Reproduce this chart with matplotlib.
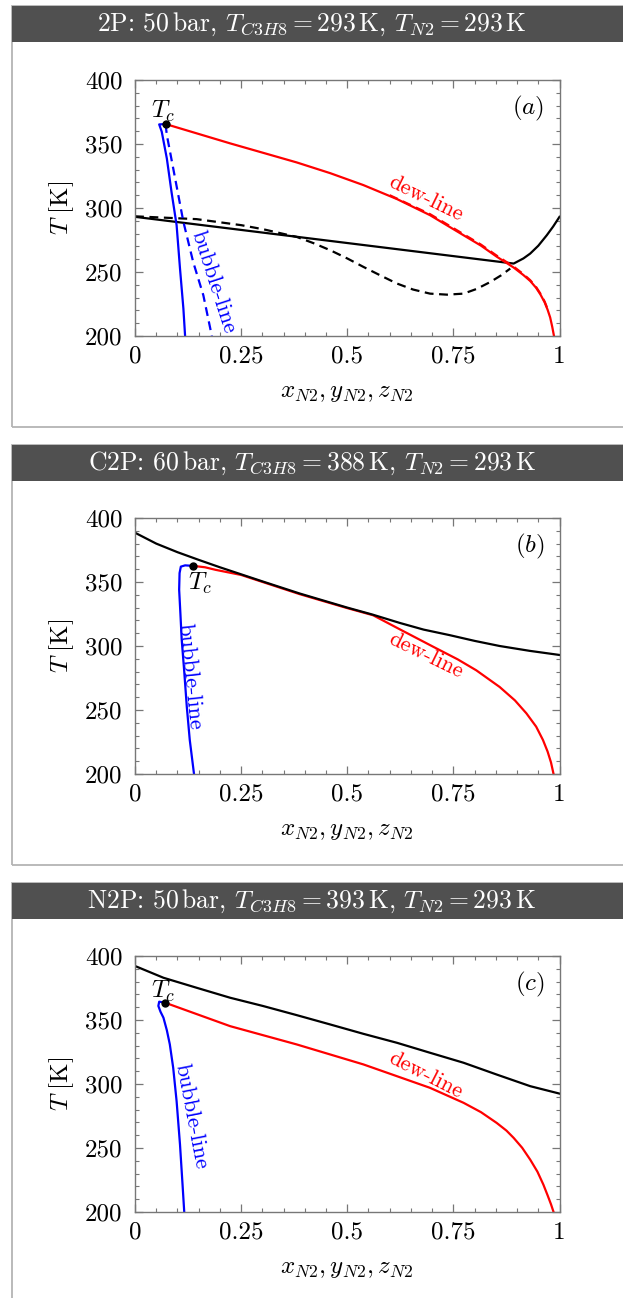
import matplotlib
matplotlib.use('Agg')
import matplotlib.pyplot as plt
from matplotlib.patches import Rectangle
from matplotlib.ticker import MultipleLocator

plt.rcParams['font.family'] = 'cmr10'
plt.rcParams['mathtext.fontset'] = 'cm'
plt.rcParams['axes.formatter.use_mathtext'] = True

# titles of the three cases
titles = [
    r'2P: 50$\,$bar, $T_{C3H8}=293\,\mathrm{K}$, $T_{N2}=293\,\mathrm{K}$',
    r'C2P: 60$\,$bar, $T_{C3H8}=388\,\mathrm{K}$, $T_{N2}=293\,\mathrm{K}$',
    r'N2P: 50$\,$bar, $T_{C3H8}=393\,\mathrm{K}$, $T_{N2}=293\,\mathrm{K}$',
]
panel_tags = ['$(a)$', '$(b)$', '$(c)$']
xticks = [0, 0.25, 0.5, 0.75, 1]
xtick_labels = ['0', '0.25', '0.5', '0.75', '1']
yticks = [200, 250, 300, 350, 400]

# panel (a)
a_bub_x = [0.072, 0.057, 0.063, 0.075, 0.086, 0.098, 0.106, 0.114, 0.118]
a_bub_T = [365.6, 365.3, 359.6, 338.7, 312.6, 286.6, 252.7, 221.4, 200]
a_bubd_x = [0.072, 0.075, 0.09, 0.114, 0.137, 0.161, 0.181]
a_bubd_T = [365.6, 357, 331, 289.2, 257.9, 231.8, 200]
a_dew_x = [0.072, 0.224, 0.381, 0.46, 0.538, 0.617, 0.695, 0.774, 0.815, 0.852, 0.892, 0.915, 0.931, 0.945, 0.955, 0.965, 0.972, 0.978, 0.983, 0.987]
a_dew_T = [365.6, 350.5, 335.6, 327.2, 317.9, 307, 294.4, 278.7, 270.6, 262, 253.5, 247.6, 243, 237.6, 232.5, 226.3, 220.5, 214.5, 207, 200]
a_dewd_x = [0.6, 0.695, 0.774, 0.815, 0.852, 0.892, 0.915, 0.931, 0.945, 0.955, 0.965, 0.972]
a_dewd_T = [310, 295.2, 279.5, 271.4, 262.8, 254.2, 248.3, 243.6, 238.2, 233.1, 226.9, 221]
a_mix_x = [0, 0.892, 0.915, 0.931, 0.95, 0.97, 0.985, 1.0]
a_mix_T = [293.1, 256.6, 260.6, 264.4, 270.5, 278.7, 285.5, 293.1]
a_mixd_x = [0, 0.145, 0.25, 0.302, 0.381, 0.42, 0.46, 0.5, 0.538, 0.58, 0.617, 0.655, 0.695, 0.735, 0.774, 0.805, 0.837, 0.862, 0.884]
a_mixd_T = [293.5, 291.3, 286.6, 283.4, 277.4, 272.6, 267, 260.6, 254, 247, 241, 236.3, 233.1, 232.3, 233.1, 236.8, 242.2, 247.3, 252.7]
a_tc = (0.072, 365.6)

# panel (b)
b_bub_x = [0.137, 0.118, 0.108, 0.105, 0.104, 0.107, 0.11, 0.116, 0.122, 0.129, 0.139]
b_bub_T = [362.6, 363, 362, 357, 344, 325, 305, 280, 252.6, 226.6, 200]
b_dew_x = [0.137, 0.165, 0.19, 0.25, 0.388, 0.5, 0.561, 0.624, 0.702, 0.76, 0.804, 0.859, 0.895, 0.922, 0.945, 0.961, 0.972, 0.98, 0.986]
b_dew_T = [362.6, 361.5, 359.5, 355.5, 340.5, 329.6, 324, 313, 299.5, 289.6, 281, 268, 257.5, 247.4, 237, 226.6, 217.5, 209, 200]
b_mix_x = [0, 0.05, 0.1, 0.15, 0.2, 0.25, 0.3, 0.388, 0.5, 0.56, 0.624, 0.68, 0.741, 0.8, 0.859, 0.93, 1]
b_mix_T = [388.5, 380, 373.3, 367.3, 361.5, 356, 350.5, 341, 330, 324.5, 318, 312.8, 308.5, 304, 300, 296.2, 293]
b_tc = (0.137, 362.6)

# panel (c)
c_bub_x = [0.071, 0.057, 0.055, 0.06, 0.067, 0.075, 0.082, 0.09, 0.098, 0.106, 0.112, 0.116]
c_bub_T = [363.5, 364.3, 361, 356.5, 351.8, 342, 331, 312.6, 286.6, 252.7, 221.4, 200]
c_dew_x = [0.071, 0.224, 0.381, 0.538, 0.617, 0.695, 0.774, 0.815, 0.852, 0.875, 0.892, 0.912, 0.931, 0.948, 0.962, 0.972, 0.98, 0.986]
c_dew_T = [363.5, 345.2, 330.9, 315.3, 306.1, 297, 285.3, 278, 269.6, 263.6, 257.9, 250.2, 240.9, 231.5, 221.4, 213, 206, 200]
c_mix_x = [0, 0.067, 0.145, 0.224, 0.302, 0.381, 0.46, 0.538, 0.617, 0.695, 0.774, 0.852, 0.931, 1]
c_mix_T = [392.2, 383, 375.2, 367.4, 360.9, 353.8, 346.5, 339.2, 332.2, 324.4, 316.6, 307.4, 298.3, 292.5]
c_tc = (0.071, 363.5)

W, H = 623, 1298
fig = plt.figure(figsize=(W / 100, H / 100), dpi=100)

box_tops = [6, 445, 883]
box_bottoms = [427, 865, 1320]
axes_tops = [80, 518, 956]
hdr_h = 36
fs = 18
lfs = 16  # curve labels

axs = []
for i in range(3):
    top, bot = box_tops[i], box_bottoms[i]
    fig.add_artist(Rectangle((12 / W, 1 - bot / H), 640 / W, (bot - top) / H,
                             transform=fig.transFigure, fill=False,
                             edgecolor='#b4b4b4', lw=1.3))
    fig.add_artist(Rectangle((12 / W, 1 - (top + hdr_h) / H), 640 / W, hdr_h / H,
                             transform=fig.transFigure, facecolor='#505050',
                             edgecolor='none'))
    fig.text(312 / W, 1 - (top + hdr_h / 2) / H, titles[i], color='white',
             fontsize=18.5, ha='center', va='center')

    ax = fig.add_axes([135 / W, 1 - (axes_tops[i] + 256) / H, 424.5 / W, 256 / H])
    ax.set_xlim(0, 1)
    ax.set_ylim(200, 400)
    ax.set_xticks(xticks, xtick_labels)
    ax.set_yticks(yticks, [str(v) for v in yticks])
    ax.xaxis.set_minor_locator(MultipleLocator(0.05))
    ax.yaxis.set_minor_locator(MultipleLocator(10))
    ax.tick_params(which='both', direction='in', top=True, right=True,
                   color='#777777', labelsize=fs)
    ax.tick_params(which='major', length=6, width=0.9)
    ax.tick_params(which='minor', length=3, width=0.8)
    ax.tick_params(axis='x', pad=7)
    ax.tick_params(axis='y', pad=9)
    for sp in ax.spines.values():
        sp.set_color('#777777')
        sp.set_linewidth(1.0)
    ax.set_xlabel(r'$x_{N2}, y_{N2}, z_{N2}$', fontsize=fs)
    ax.xaxis.set_label_coords(0.5, -0.223)
    ax.xaxis.label.set_va('center')
    ax.set_ylabel(r'$T\ [\mathrm{K}]$', fontsize=fs)
    ax.yaxis.set_label_coords(-0.172, 0.5)
    ax.yaxis.label.set_va('center')
    ax.text(0.965, 0.89, panel_tags[i], transform=ax.transAxes, fontsize=fs,
            ha='right', va='center')
    axs.append(ax)

lw = 1.6
dash = (0, (4, 2.5))

# (a)
ax = axs[0]
ax.plot(a_mixd_x, a_mixd_T, color='black', lw=lw, ls=dash)
ax.plot(a_mix_x, a_mix_T, color='black', lw=lw)
ax.plot(a_bubd_x, a_bubd_T, color='blue', lw=lw, ls=dash)
ax.plot(a_bub_x, a_bub_T, color='blue', lw=lw)
ax.plot(a_dewd_x, a_dewd_T, color='red', lw=lw, ls=dash)
ax.plot(a_dew_x, a_dew_T, color='red', lw=lw)
ax.plot(*a_tc, 'o', color='black', ms=5)
ax.text(0.067, 375.2, '$T_c$', fontsize=fs, ha='center', va='center')
ax.text(0.186, 242.2, 'bubble-line', color='blue', fontsize=lfs, rotation=-72,
        rotation_mode='anchor', ha='center', va='center')
ax.text(0.685, 307.4, 'dew-line', color='red', fontsize=lfs, rotation=-26,
        rotation_mode='anchor', ha='center', va='center')

# (b)
ax = axs[1]
ax.plot(b_dew_x, b_dew_T, color='red', lw=lw)
ax.plot(b_mix_x, b_mix_T, color='black', lw=lw)
ax.plot(b_bub_x, b_bub_T, color='blue', lw=lw)
ax.plot(*b_tc, 'o', color='black', ms=5)
ax.text(0.153, 349, '$T_c$', fontsize=fs, ha='center', va='center')
ax.text(0.13, 275.8, 'bubble-line', color='blue', fontsize=lfs, rotation=-84,
        rotation_mode='anchor', ha='center', va='center')
ax.text(0.684, 293, 'dew-line', color='red', fontsize=lfs, rotation=-26,
        rotation_mode='anchor', ha='center', va='center')

# (c)
ax = axs[2]
ax.plot(c_mix_x, c_mix_T, color='black', lw=lw)
ax.plot(c_dew_x, c_dew_T, color='red', lw=lw)
ax.plot(c_bub_x, c_bub_T, color='blue', lw=lw)
ax.plot(*c_tc, 'o', color='black', ms=5)
ax.text(0.067, 372.6, '$T_c$', fontsize=fs, ha='center', va='center')
ax.text(0.133, 274.8, 'bubble-line', color='blue', fontsize=lfs, rotation=-79,
        rotation_mode='anchor', ha='center', va='center')
ax.text(0.685, 306.9, 'dew-line', color='red', fontsize=lfs, rotation=-27,
        rotation_mode='anchor', ha='center', va='center')

fig.savefig('out.png', dpi=100)
